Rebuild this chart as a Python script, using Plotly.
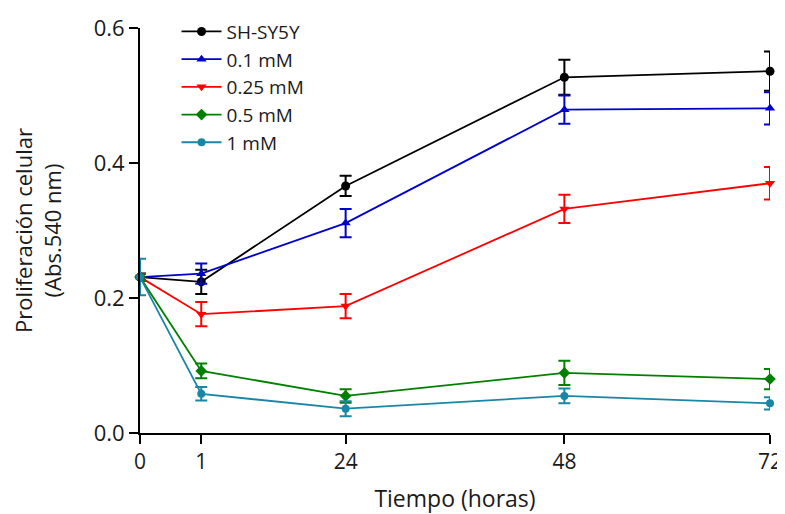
import plotly.graph_objects as go

time_labels = ["0", "1", "24", "48", "72"]
# horizontal placement of each time point on the drawn axis (as in the original graph)
axis_pos = [0, 7, 23.5, 48.5, 72]

series_names = ["SH-SY5Y", "0.1 mM", "0.25 mM", "0.5 mM", "1 mM"]
sh_sy5y = [0.231, 0.224, 0.366, 0.527, 0.536]
sh_sy5y_err = [0.005, 0.018, 0.015, 0.026, 0.029]
mm_01 = [0.231, 0.236, 0.311, 0.479, 0.481]
mm_01_err = [0.005, 0.015, 0.021, 0.021, 0.024]
mm_025 = [0.231, 0.176, 0.188, 0.332, 0.370]
mm_025_err = [0.005, 0.018, 0.018, 0.021, 0.024]
mm_05 = [0.231, 0.092, 0.055, 0.089, 0.080]
mm_05_err = [0.005, 0.011, 0.010, 0.018, 0.015]
mm_1 = [0.231, 0.058, 0.036, 0.055, 0.044]
mm_1_err = [0.027, 0.010, 0.011, 0.011, 0.009]

values = [sh_sy5y, mm_01, mm_025, mm_05, mm_1]
errors = [sh_sy5y_err, mm_01_err, mm_025_err, mm_05_err, mm_1_err]
colors = ["#000000", "#0000CC", "#FF0000", "#008000", "#1A86A6"]
symbols = ["circle", "triangle-up", "triangle-down", "diamond", "circle"]
sizes = [9, 9, 9, 9, 8]

FONT = "Open Sans"
TXT = "#1a1a1a"

fig = go.Figure()
for name, v, e, c, s, sz in zip(series_names, values, errors, colors, symbols, sizes):
    fig.add_trace(go.Scatter(
        x=axis_pos, y=v, name=name, mode="lines+markers",
        line=dict(color=c, width=1.8),
        marker=dict(color=c, symbol=s, size=sz),
        error_y=dict(type="data", array=e, visible=True, color=c, thickness=2, width=6),
        cliponaxis=False,
    ))

fig.update_layout(
    width=777, height=506,
    margin=dict(l=132, r=15, t=20, b=81, autoexpand=False),
    plot_bgcolor="white", paper_bgcolor="white",
    font=dict(family=FONT, size=19, color=TXT),
    showlegend=True,
    legend=dict(x=0.058, y=1.038, xanchor="left", yanchor="top",
                bgcolor="rgba(0,0,0,0)", font=dict(family=FONT, size=19, color=TXT),
                tracegroupgap=0, itemwidth=40),
    xaxis=dict(
        range=[0, 72], tickmode="array", tickvals=axis_pos, ticktext=time_labels,
        showline=True, linecolor="black", linewidth=2, mirror=False,
        ticks="outside", ticklen=9, tickwidth=2, tickcolor="black",
        showgrid=False, zeroline=False, ticklabeloverflow="allow",
        tickfont=dict(family=FONT, size=21, color=TXT),
        title=dict(text="Tiempo (horas)", font=dict(family=FONT, size=23, color=TXT), standoff=18),
    ),
    yaxis=dict(
        range=[0, 0.6], tickvals=[0, 0.2, 0.4, 0.6], ticktext=["0.0", "0.2", "0.4", "0.6"],
        showline=True, linecolor="black", linewidth=2,
        ticks="outside", ticklen=9, tickwidth=2, tickcolor="black",
        showgrid=False, zeroline=False,
        tickfont=dict(family=FONT, size=22, color=TXT),
        title=dict(text="Proliferación celular<br>(Abs.540 nm)",
                   font=dict(family=FONT, size=22, color=TXT), standoff=30),
    ),
)

fig.write_html("out.html")
